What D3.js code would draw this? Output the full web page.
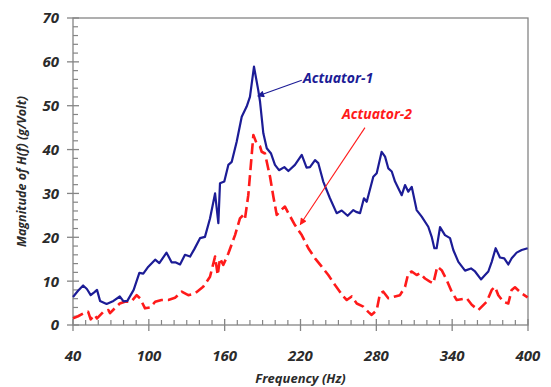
<!DOCTYPE html>
<html><head><meta charset="utf-8">
<script src="https://cdn.jsdelivr.net/npm/d3@7/dist/d3.min.js"></script>
<style>
html,body{margin:0;padding:0;background:#fff;}
svg text{font-family:"Open Sans","Liberation Sans",sans-serif;font-weight:bold;font-style:italic;}
</style></head>
<body><svg id="c" width="551" height="387"></svg>
<script>
// Actuator-1 (solid, blue)
const freq1 = [40,44,48,51,54,57,59,61.4,66.6,72,77,80,83,88,92.5,95.6,99.6,105,108.3,114,118,121,124.7,128.6,132.6,136,140.5,144.4,148.4,152.4,155,156.3,159.7,162.9,165.6,169.5,173.5,177.4,180,183.2,186.6,188,190.6,193.3,196.7,199.8,203,207.2,210.4,215.6,221,224.8,227.5,231.5,234.1,238,243.3,248.6,252.6,257.3,261.8,264,267.1,270.2,272.4,277.6,280.3,284.2,286.9,289.5,292.2,294.8,300.1,302.7,305.3,308,311.9,315.9,321.1,323.8,325.9,327.7,330.4,334.3,338.3,340.9,344.9,350.2,354.9,358.1,362.8,366,368.6,371.3,374.4,377.8,381.2,384.4,387.1,391,395,399.7];
const mag1  = [6.4,7.8,9.0,8.2,6.8,7.5,8.0,5.5,4.8,5.5,6.5,5.4,5.5,8.0,11.9,11.7,13.3,14.9,14.1,16.5,14.3,14.3,13.8,16.0,15.6,17.3,19.8,20.1,24.3,30.0,23.2,32.3,32.7,36.5,37.2,41.8,47.5,49.8,52.0,58.9,53.5,50.9,43.7,40.3,39.1,36.5,35.3,36.0,35.1,36.5,38.8,35.9,36.0,37.6,36.9,32.7,28.9,25.5,26.1,24.9,26.2,25.8,25.5,28.9,28.1,33.8,34.6,39.5,38.4,35.7,35.0,32.7,29.6,31.9,30.4,31.5,26.2,24.7,22.4,20.1,17.5,17.5,22.3,20.5,19.8,17.1,14.4,12.4,12.9,12.2,10.4,11.4,12.2,14.4,17.5,15.4,15.2,13.8,15.2,16.5,17.1,17.5];
// Actuator-2 (dashed, red)
const freq2 = [40,44,48,52,54,57,59,64,68,69.3,73,77,81,86,90.4,93,97,101,105,110,115.4,120.7,126,131.2,136.5,143,148.4,152.4,154.5,156.3,158.9,162.9,168.2,172.1,174.7,176.1,178.7,181.4,182.7,185.3,188,189.3,191.9,195.9,198.5,201.2,204.6,207.7,210.4,215.6,221,226.2,231.5,236.8,242,247.3,253.9,256.6,260.5,264.5,269.7,273.6,276.3,280.3,282.9,285.5,289.5,294.8,298.7,302.7,305.3,308,311.9,314.5,318.5,322.4,325.1,328.2,331.7,335.6,339.6,343.6,351.5,355.5,360.7,367.3,371.3,373.9,376.5,380.5,384.4,387.1,389.7,395,399.7];
const mag2  = [1.5,2.0,2.6,3.0,1.3,2.3,1.5,3.0,3.4,2.7,3.8,4.9,5.3,5.3,6.8,6.1,3.8,4.0,5.3,5.7,5.7,6.2,7.6,6.8,7.2,8.7,11.0,15.6,11.4,15.2,13.7,16.3,20.5,24.3,25.1,24.3,29.6,38.8,43.3,41.4,40.7,39.5,39.1,33.8,29.3,25.1,26.2,27.0,25.5,22.8,20.5,17.5,15.2,13.3,11.4,9.1,6.5,5.7,6.5,4.9,4.2,3.0,2.3,3.4,7.2,7.6,6.1,6.5,6.8,8.7,11.8,12.2,11.4,11.8,10.6,9.9,9.5,13.3,12.5,10.3,7.6,5.7,6.1,4.6,3.4,5.3,8.0,8.7,6.8,5.3,4.9,8.0,8.6,7.2,6.3];
const xTicks = [40,100,160,220,280,340,400];
const yTicks = [0,10,20,30,40,50,60,70];
const labels = ["Actuator-1","Actuator-2"];
const xTitle = "Frequency (Hz)";
const yTitle = "Magnitude of H(f) (g/Volt)";
// annotation anchors in data units: [text f, text v, arrow start f, v, arrow end f, v]
const ann1 = [222, 55.2, 221, 55.8, 186.2, 52.2];
const ann2 = [252.8, 47, 271, 45.0, 219.8, 22.9];

const svg = d3.select("#c");
const L=73, R=528, T=18, B=325;
const x = d3.scaleLinear().domain([40,400]).range([L,R]);
const y = d3.scaleLinear().domain([0,70]).range([B,T]);
const axisCol = "#858585", textCol = "#2b2b2b";
const blue = "#1c1c96", red = "#ff1a1a";

const defs = svg.append("defs");
function marker(id, col){
  defs.append("marker").attr("id",id).attr("viewBox","0 0 10 10").attr("refX",9).attr("refY",5)
    .attr("markerWidth",9).attr("markerHeight",7).attr("markerUnits","userSpaceOnUse").attr("orient","auto")
    .append("path").attr("d","M0,0L10,5L0,10z").attr("fill",col);
}
marker("ab", blue); marker("ar", red);

// frame
svg.append("rect").attr("x",L).attr("y",T).attr("width",R-L).attr("height",B-T)
  .attr("fill","none").attr("stroke",axisCol).attr("stroke-width",1.3);

// y minor ticks (inside)
const yMinor = d3.range(0,70.01,2).filter(v=>v%10!==0);
svg.append("g").selectAll("line").data(yMinor).join("line")
  .attr("x1",L).attr("x2",L+5).attr("y1",d=>y(d)).attr("y2",d=>y(d)).attr("stroke",axisCol).attr("stroke-width",1.2);
svg.append("g").selectAll("line").data(yTicks).join("line")
  .attr("x1",L-6).attr("x2",L+6).attr("y1",d=>y(d)).attr("y2",d=>y(d)).attr("stroke",axisCol).attr("stroke-width",1.3);
// x minor ticks
const xMinor = d3.range(40,400.01,10).filter(v=>(v-40)%60!==0);
svg.append("g").selectAll("line").data(xMinor).join("line")
  .attr("x1",d=>x(d)).attr("x2",d=>x(d)).attr("y1",B).attr("y2",B-5).attr("stroke",axisCol).attr("stroke-width",1.2);
svg.append("g").selectAll("line").data(xTicks).join("line")
  .attr("x1",d=>x(d)).attr("x2",d=>x(d)).attr("y1",B-6).attr("y2",B+6).attr("stroke",axisCol).attr("stroke-width",1.3);

// tick labels
svg.append("g").selectAll("text").data(yTicks).join("text")
  .attr("x",L-14).attr("y",d=>y(d)).attr("dy","0.36em").attr("text-anchor","end")
  .attr("font-size",15).attr("fill",textCol).text(d=>d);
svg.append("g").selectAll("text").data(xTicks).join("text")
  .attr("x",d=>x(d)).attr("y",361).attr("text-anchor","middle")
  .attr("font-size",15).attr("fill",textCol).text(d=>d);

// titles
svg.append("text").attr("x",(L+R)/2).attr("y",383).attr("text-anchor","middle")
  .attr("font-size",13).attr("fill",textCol).text(xTitle);
svg.append("text").attr("transform",`translate(26,${(T+B)/2}) rotate(-90)`).attr("text-anchor","middle")
  .attr("font-size",12.5).attr("fill",textCol).text(yTitle);

// lines
const line = d3.line().x(d=>x(d[0])).y(d=>y(d[1]));
svg.append("path").datum(freq2.map((f,i)=>[f,mag2[i]])).attr("d",line)
  .attr("fill","none").attr("stroke",red).attr("stroke-width",2.6).attr("stroke-dasharray","11,5")
  .attr("stroke-linejoin","round");
svg.append("path").datum(freq1.map((f,i)=>[f,mag1[i]])).attr("d",line)
  .attr("fill","none").attr("stroke",blue).attr("stroke-width",2.2).attr("stroke-linejoin","round");

// annotations
function annot(a, txt, col, mk){
  svg.append("line").attr("x1",x(a[2])).attr("y1",y(a[3])).attr("x2",x(a[4])).attr("y2",y(a[5]))
    .attr("stroke",col).attr("stroke-width",1.1).attr("marker-end",`url(#${mk})`);
  svg.append("text").attr("x",x(a[0])).attr("y",y(a[1])).attr("font-size",14).attr("fill",col).text(txt);
}
annot(ann1, labels[0], blue, "ab");
annot(ann2, labels[1], red, "ar");
</script></body></html>
